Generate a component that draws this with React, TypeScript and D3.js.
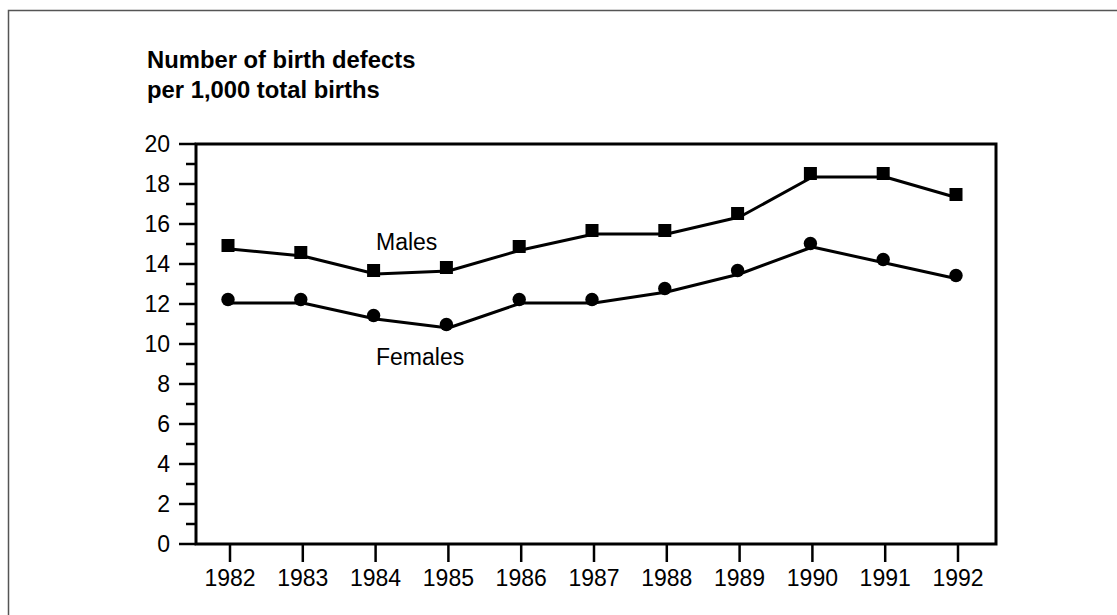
import React from 'react'
import * as d3 from 'd3'

// years along the bottom
const years = [1982, 1983, 1984, 1985, 1986, 1987, 1988, 1989, 1990, 1991, 1992]
// defects per 1,000 births
const males = [14.75, 14.4, 13.5, 13.65, 14.7, 15.5, 15.5, 16.35, 18.35, 18.35, 17.3]
const females = [12.05, 12.05, 11.25, 10.8, 12.05, 12.05, 12.6, 13.5, 14.85, 14.05, 13.25]
const yTicks = [0, 2, 4, 6, 8, 10, 12, 14, 16, 18, 20]
const yMinorTicks = [1, 3, 5, 7, 9, 11, 13, 15, 17, 19]
const titleLines = ['Number of birth defects', 'per 1,000 total births']

export default function App() {
  const plot = { left: 196, right: 996, top: 144, bottom: 544 }
  const font = 'Liberation Sans, Arial, Helvetica, sans-serif'

  const x = d3.scaleLinear().domain([1982, 1992]).range([230, 958])
  const y = d3.scaleLinear().domain([0, 20]).range([plot.bottom, plot.top])

  const line = d3.line<number>()
    .x((d, i) => x(years[i]))
    .y(d => y(d))

  // markers sit a little up and left of the line vertices in the original
  const mdx = -2
  const mdy = -3.5

  return (
    <svg width={1117} height={615} style={{ position: 'absolute', left: 0, top: 0 }}>
      <rect x={8.5} y={10.5} width={1200} height={700} fill="none" stroke="#555" strokeWidth={1.5} />

      {titleLines.map((t, i) => (
        <text key={t} x={147} y={68 + i * 30} fontFamily={font} fontSize={23.8} fontWeight="bold" fill="#000">{t}</text>
      ))}

      {/* plot frame */}
      <rect x={plot.left} y={plot.top} width={plot.right - plot.left} height={plot.bottom - plot.top}
        fill="none" stroke="#000" strokeWidth={3} />

      {/* y axis */}
      <g>
        {yTicks.map(t => (
          <g key={t}>
            <line x1={plot.left - 17} x2={plot.left} y1={y(t)} y2={y(t)} stroke="#000" strokeWidth={2.5} />
            <text x={170} y={y(t)} dy="0.36em" textAnchor="end" fontFamily={font} fontSize={23} fill="#000">{t}</text>
          </g>
        ))}
        {yMinorTicks.map(t => (
          <line key={t} x1={plot.left - 10} x2={plot.left} y1={y(t)} y2={y(t)} stroke="#000" strokeWidth={2.5} />
        ))}
      </g>

      {/* x axis */}
      <g>
        {years.map(yr => (
          <g key={yr}>
            <line x1={x(yr)} x2={x(yr)} y1={plot.bottom} y2={plot.bottom + 18} stroke="#000" strokeWidth={2.5} />
            <text x={x(yr)} y={586} textAnchor="middle" fontFamily={font} fontSize={23} fill="#000">{yr}</text>
          </g>
        ))}
      </g>

      {/* series */}
      <path d={line(males) || ''} fill="none" stroke="#000" strokeWidth={3} strokeLinejoin="round" />
      <path d={line(females) || ''} fill="none" stroke="#000" strokeWidth={3} strokeLinejoin="round" />
      <g transform={`translate(${mdx},${mdy})`}>
        {males.map((v, i) => (
          <rect key={i} x={x(years[i]) - 6.5} y={y(v) - 6.5} width={13} height={13} fill="#000" />
        ))}
        {females.map((v, i) => (
          <circle key={i} cx={x(years[i])} cy={y(v)} r={6.7} fill="#000" />
        ))}
      </g>

      <text x={376} y={250} fontFamily={font} fontSize={23} fill="#000">Males</text>
      <text x={376} y={365} fontFamily={font} fontSize={23} fill="#000">Females</text>
    </svg>
  )
}
